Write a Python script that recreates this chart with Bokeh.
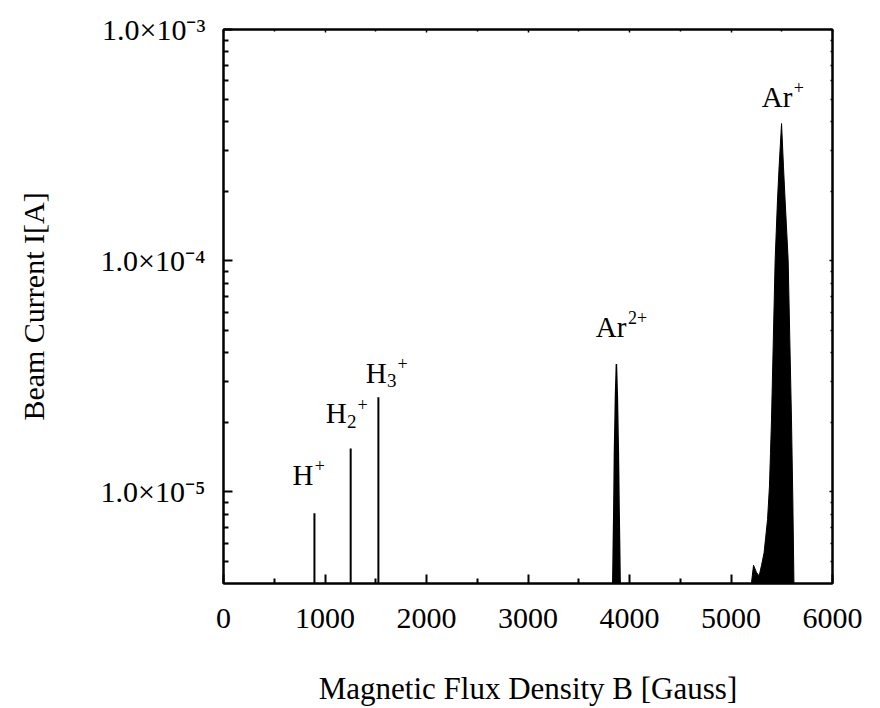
from bokeh.plotting import figure
from bokeh.models import FixedTicker, LinearAxis, LogAxis, Range1d
from bokeh.core.properties import value
from bokeh.embed import file_html
from bokeh.resources import INLINE

# ---------------- data ----------------
x_ticks = [0, 1000, 2000, 3000, 4000, 5000, 6000]
x_minor = [500, 1500, 2500, 3500, 4500, 5500]
y_ticks = [1e-5, 1e-4, 1e-3]
y_tick_labels = ["1.0×10⁻⁵", "1.0×10⁻⁴", "1.0×10⁻³"]

# hydrogen lines (B [Gauss], peak current [A])
h_B = [896, 1253, 1526]
h_I = [8.1e-6, 1.54e-5, 2.57e-5]

# Ar2+ peak
ar2_B = [3833, 3845, 3852, 3862, 3871, 3880, 3890, 3898, 3910]
ar2_I = [3.5e-6, 8.0e-6, 1.5e-5, 2.6e-5, 3.58e-5, 2.6e-5, 1.5e-5, 8.0e-6, 3.5e-6]

# Ar+ peak
ar1_B = [5185, 5222, 5250, 5277, 5300, 5326, 5360, 5379, 5389, 5399, 5435,
         5458, 5474, 5498, 5517, 5533, 5563, 5596, 5609, 5622]
ar1_I = [3.5e-6, 4.82e-6, 4.5e-6, 4.33e-6, 4.8e-6, 5.46e-6, 7.6e-6, 1.06e-5,
         1.47e-5, 2.05e-5, 1.01e-4, 1.83e-4, 2.55e-4, 3.92e-4, 2.55e-4,
         1.83e-4, 1.01e-4, 2.05e-5, 9.3e-6, 3.5e-6]

# peak labels
lab_base = ["H", "H", "H", "Ar", "Ar"]
lab_sub = ["", "2", "3", "", ""]
lab_sup = ["+", "+", "+", "2+", "+"]
lab_B = [679, 1007, 1401, 3668, 5303]
lab_I = [1.19e-5, 2.19e-5, 3.27e-5, 5.17e-5, 5.12e-4]

FLOOR = 1e-7
FONT = "Liberation Serif"

# ---------------- figure ----------------
p = figure(width=880, height=708,
           x_range=Range1d(0, 6000), y_range=Range1d(4.02e-6, 1.0e-3),
           y_axis_type="log", output_backend="svg", toolbar_location=None,
           min_border_left=223, min_border_right=48,
           min_border_top=29, min_border_bottom=124)
p.xgrid.visible = False
p.ygrid.visible = False
p.outline_line_color = "black"
p.outline_line_width = 2
p.background_fill_color = "white"
p.border_fill_color = "white"

# spectrum
p.segment(x0=h_B, y0=[FLOOR] * len(h_B), x1=h_B, y1=h_I,
          line_color="black", line_width=2)
p.varea(x=ar2_B, y1=[FLOOR] * len(ar2_B), y2=ar2_I, fill_color="black")
p.line(x=ar2_B, y=ar2_I, line_color="black", line_width=1.5)
p.varea(x=ar1_B, y1=[FLOOR] * len(ar1_B), y2=ar1_I, fill_color="black")
p.line(x=ar1_B, y=ar1_I, line_color="black", line_width=1)

# labels: base text, optional subscript, superscript
base_w = [20.9 if b == "H" else 30.6 for b in lab_base]
p.text(x=lab_B, y=lab_I, text=lab_base, text_font=value(FONT),
       text_font_size="29px", text_color="black",
       text_align="left", text_baseline="alphabetic")

sub_idx = [i for i, s in enumerate(lab_sub) if s]
p.text(x=[lab_B[i] for i in sub_idx], y=[lab_I[i] for i in sub_idx],
       text=[lab_sub[i] for i in sub_idx], text_font=value(FONT),
       text_font_size="19px", text_color="black",
       x_offset=[base_w[i] + 0.5 for i in sub_idx],
       y_offset=8, text_align="left", text_baseline="alphabetic")

sup_dx = [base_w[i] + (9.5 if lab_sub[i] else 0.0) + 1.5 for i in range(len(lab_base))]
p.text(x=lab_B, y=lab_I, text=lab_sup, text_font=value(FONT),
       text_font_size="18px", text_color="black", x_offset=sup_dx,
       y_offset=-9, text_align="left", text_baseline="alphabetic")

# axes
xa = p.xaxis[0]
xa.ticker = FixedTicker(ticks=x_ticks, minor_ticks=x_minor)
xa.axis_label = "Magnetic Flux Density B [Gauss]"
ya = p.yaxis[0]
y_minor = [k * 10.0 ** e for e in (-6, -5, -4) for k in range(2, 10)]
ya.ticker = FixedTicker(ticks=y_ticks, minor_ticks=y_minor)
ya.major_label_overrides = {t: l for t, l in zip(y_ticks, y_tick_labels)}
ya.axis_label = "Beam Current I[A]"

for ax in (xa, ya):
    ax.axis_line_width = 2
    ax.major_tick_in = 9
    ax.major_tick_out = 0
    ax.minor_tick_in = 5
    ax.minor_tick_out = 0
    ax.major_tick_line_width = 2
    ax.minor_tick_line_width = 2
    ax.major_label_text_font = FONT
    ax.major_label_text_font_size = "30px"
    ax.major_label_text_color = "black"
    ax.axis_label_text_font = FONT
    ax.axis_label_text_font_size = "30px"
    ax.axis_label_text_font_style = "normal"
    ax.axis_label_text_color = "black"
xa.axis_label_text_font_size = "31px"
xa.major_label_standoff = 25
xa.axis_label_standoff = 40
ya.major_label_standoff = 18
ya.axis_label_standoff = 48

# mirror axes (ticks only, no labels)
top = LinearAxis(ticker=FixedTicker(ticks=x_ticks, minor_ticks=x_minor))
right = LogAxis(ticker=FixedTicker(ticks=y_ticks, minor_ticks=y_minor))
for ax in (top, right):
    ax.axis_line_width = 2
    ax.major_tick_in = 3
    ax.major_tick_out = 0
    ax.minor_tick_in = 2
    ax.minor_tick_out = 0
    ax.major_tick_line_width = 1.5
    ax.minor_tick_line_width = 1.5
    ax.major_label_text_color = None
    ax.major_label_text_alpha = 0
    ax.major_label_text_font_size = "10px"
    ax.major_label_standoff = 0
p.add_layout(top, "above")
p.add_layout(right, "right")

open("out.html", "w").write(file_html(p, INLINE))
